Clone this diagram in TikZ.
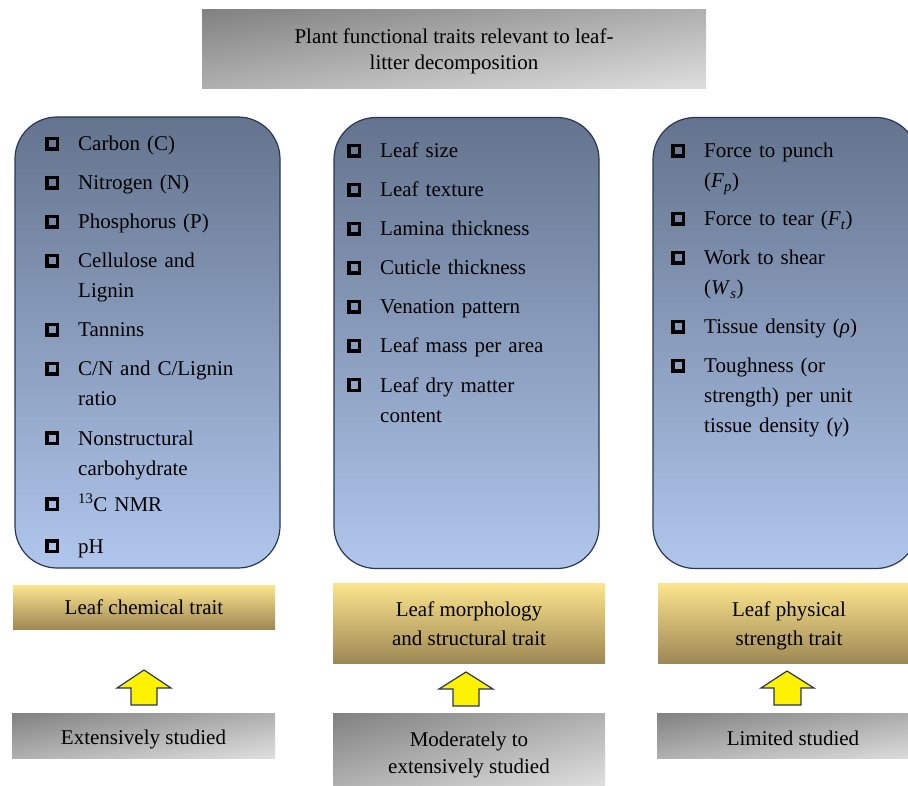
\documentclass[tikz,border=0pt]{standalone}
\usepackage{fontspec}
\setmainfont{Liberation Serif}
\definecolor{bluetop}{RGB}{100,116,142}
\definecolor{bluebot}{RGB}{176,198,236}
\definecolor{navy}{RGB}{40,55,85}
\definecolor{goldtop}{RGB}{252,229,142}
\definecolor{goldbot}{RGB}{158,136,84}
\definecolor{graydark}{RGB}{130,130,130}
\definecolor{graylight}{RGB}{222,222,222}
\pgfdeclarehorizontalshading{diaggray}{100bp}{color(0bp)=(graydark); color(15bp)=(graydark); color(85bp)=(graylight); color(100bp)=(graylight)}
\newcommand\grayshade[3]{%
  \begin{scope}[transform canvas={shift={#1}, xscale=#2/100, yscale=#3/100}]
    \fill[shading=diaggray, shading angle=-45] (-50,-50) rectangle (50,50);
  \end{scope}}
\tikzset{
 panel/.style={draw=navy, line width=1.2pt, rounded corners=42pt, top color=bluetop, bottom color=bluebot, minimum width=265pt, minimum height=451pt, inner sep=0pt},
 gold/.style={top color=goldtop, bottom color=goldbot, inner sep=0pt},
 graybox/.style={inner sep=0pt},
 boxtext/.style={inner sep=0pt, align=center, font=\fontsize{21}{29}\selectfont},
 bul/.style={draw=black, line width=3.3pt, minimum size=10.3pt, inner sep=0pt},
 item/.style={anchor=base west, text width=195pt, align=left, inner sep=0pt, font=\fontsize{21}{30}\selectfont},
 uparrow/.style={fill=yellow, draw=navy, line width=1.2pt, line join=miter}
}
\begin{document}
\begin{tikzpicture}[x=1pt,y=-1pt]
\path[use as bounding box, clip] (0,0) rectangle (908,786);
% title
\grayshade{(454,49.5)}{504}{79}
\node[graybox, minimum width=504pt, minimum height=79pt] (title) at (454,49.5) {};
\node[boxtext, font=\fontsize{21}{26}\selectfont] (titlet) at ([yshift=-2pt]title.center) {Plant functional traits relevant to leaf-\\litter decomposition};
% panels
\node[panel] (p1) at (147.5,342.5) {};
\node[panel] (p2) at (466.5,343) {};
\node[panel] (p3) at (785.5,343) {};
% left list
\foreach \n/\y/\t in {1/151/{Carbon (C)},2/190/{Nitrogen (N)},3/229/{Phosphorus (P)},4/268/{Cellulose and\\Lignin},5/337/{Tannins},6/376/{C/N and C/Lignin\\ratio},7/445/{Nonstructural\\carbohydrate},8/511/{\textsuperscript{13}C NMR},9/553/{pH}}{
  \node[bul] (lb\n) at (52,\y-7) {};
  \node[item] (lt\n) at (78,\y) {\t};
}
% middle list
\foreach \n/\y/\t in {1/158/{Leaf size},2/197/{Leaf texture},3/236/{Lamina thickness},4/275/{Cuticle thickness},5/314/{Venation pattern},6/353/{Leaf mass per area},7/392/{Leaf dry matter\\content}}{
  \node[bul] (mb\n) at (354,\y-7) {};
  \node[item] (mt\n) at (380,\y) {\t};
}
% right list
\foreach \n/\y/\t in {1/158/{Force to punch\\(\textit{F}\textsubscript{\textit{p}})},2/226/{Force to tear (\textit{F}\textsubscript{\textit{t}})},3/265/{Work to shear\\(\textit{W}\textsubscript{\textit{s}})},4/334/{Tissue density (\textit{ρ})},5/373/{Toughness (or\\strength) per unit\\tissue density (\textit{γ})}}{
  \node[bul] (rb\n) at (678,\y-7) {};
  \node[item] (rt\n) at (704,\y) {\t};
}
% trait boxes
\node[gold, minimum width=262pt, minimum height=44pt] (y1) at (144,607) {};
\node[boxtext] (y1t) at ([yshift=0pt]y1.center) {Leaf chemical trait};
\node[gold, minimum width=272pt, minimum height=80pt] (y2) at (469,623) {};
\node[boxtext] (y2t) at ([yshift=-1pt]y2.center) {Leaf morphology\\and structural trait};
\node[gold, minimum width=262pt, minimum height=80pt] (y3) at (789,623) {};
\node[boxtext] (y3t) at ([yshift=-3pt]y3.center) {Leaf physical\\strength trait};
% study boxes
\grayshade{(143.5,735.5)}{263}{45}
\node[graybox, minimum width=263pt, minimum height=45pt] (g1) at (143.5,735.5) {};
\node[boxtext] (g1t) at ([yshift=-4pt]g1.center) {Extensively studied};
\grayshade{(469,749.5)}{272}{73}
\node[graybox, minimum width=272pt, minimum height=73pt] (g2) at (469,749.5) {};
\node[boxtext, font=\fontsize{21}{27}\selectfont] (g2t) at ([yshift=-5pt]g2.center) {Moderately to\\extensively studied};
\grayshade{(793,735.5)}{272}{45}
\node[graybox, minimum width=272pt, minimum height=45pt] (g3) at (793,735.5) {};
\node[boxtext] (g3t) at ([yshift=-3pt]g3.center) {Limited studied};
% arrows
\draw[uparrow] (131,705) -- (131,688) -- (117,688) -- (144,670) -- (171,688) -- (157,688) -- (157,705) -- cycle;
\draw[uparrow] (453,706) -- (453,689) -- (439,689) -- (466,672) -- (493,689) -- (479,689) -- (479,706) -- cycle;
\draw[uparrow] (774,705) -- (774,688) -- (761,688) -- (787,671) -- (814,688) -- (801,688) -- (801,705) -- cycle;
\end{tikzpicture}
\end{document}
